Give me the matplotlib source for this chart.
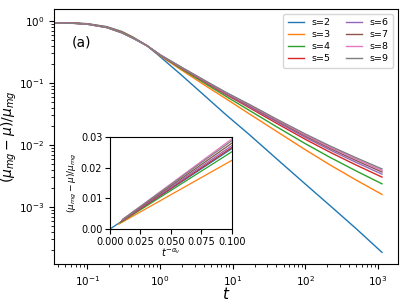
import matplotlib
matplotlib.use("Agg")
import matplotlib.pyplot as plt

# --- data ---
s_labels = ["s=2", "s=3", "s=4", "s=5", "s=6", "s=7", "s=8", "s=9"]

t = [0.035, 0.065, 0.1, 0.185, 0.3, 0.43, 0.66, 1, 2, 4, 8, 17, 40, 100, 220, 500, 1130]

rel_s2 = [0.935, 0.93, 0.905, 0.81, 0.675, 0.545, 0.40,
          0.266, 0.132, 0.064, 0.031, 0.0146, 0.0060, 0.00233, 0.00104, 0.000445, 0.000185]
rel_s3 = [0.93, 0.925, 0.90, 0.80, 0.665, 0.537, 0.40,
          0.275, 0.160, 0.094, 0.056, 0.0316, 0.0166, 0.00835, 0.00473, 0.00271, 0.00159]
rel_s4 = [0.928, 0.922, 0.895, 0.795, 0.657, 0.532, 0.40,
          0.28, 0.167, 0.101, 0.0612, 0.036, 0.0197, 0.01046, 0.00627, 0.0038, 0.00236]
rel_s5 = [0.926, 0.92, 0.892, 0.79, 0.652, 0.529, 0.40,
          0.282, 0.172, 0.1057, 0.0655, 0.0398, 0.0224, 0.0123, 0.00759, 0.00473, 0.00303]
rel_s6 = [0.925, 0.918, 0.89, 0.787, 0.648, 0.527, 0.40,
          0.283, 0.174, 0.108, 0.0674, 0.0416, 0.0237, 0.0132, 0.00826, 0.00522, 0.00338]
rel_s7 = [0.924, 0.917, 0.888, 0.785, 0.645, 0.525, 0.40,
          0.284, 0.1755, 0.1096, 0.0688, 0.0429, 0.0247, 0.0139, 0.00876, 0.00559, 0.00366]
rel_s8 = [0.923, 0.916, 0.887, 0.783, 0.643, 0.524, 0.40,
          0.285, 0.1767, 0.1108, 0.0699, 0.0440, 0.0255, 0.01446, 0.00918, 0.0059, 0.00388]
rel_s9 = [0.922, 0.915, 0.885, 0.781, 0.641, 0.522, 0.40,
          0.285, 0.178, 0.112, 0.071, 0.045, 0.0262, 0.0150, 0.00957, 0.0062, 0.0041]
main_series = [rel_s2, rel_s3, rel_s4, rel_s5, rel_s6, rel_s7, rel_s8, rel_s9]

# inset: rel. deviation vs t^{-alpha_nu}
inset_x = [[0.0, 0.1], [0.0072, 0.1], [0.0085, 0.1], [0.0092, 0.1],
           [0.0097, 0.1], [0.0100, 0.1], [0.0103, 0.1], [0.0105, 0.1]]
inset_y = [[0.0, 0.0262], [0.0016, 0.0224], [0.0021, 0.0252], [0.0024, 0.0266],
           [0.0027, 0.0272], [0.0029, 0.0280], [0.0031, 0.0294], [0.0032, 0.0288]]

colors = plt.cm.tab10.colors

fig = plt.figure(figsize=(4.07, 3.05), dpi=100)
ax = fig.add_axes([0.1327, 0.1344, 0.8453, 0.8361])

for i, ys in enumerate(main_series):
    ax.plot(t, ys, color=colors[i], lw=1.0, label=s_labels[i])

ax.set_xscale("log")
ax.set_yscale("log")
ax.set_xlim(0.0348, 1880)
ax.set_ylim(1.2e-4, 1.56)
ax.tick_params(labelsize=7.5)
ax.set_xlabel("$t$", fontsize=11, labelpad=-1)
ax.set_ylabel(r"$(\mu_{mg}-\mu)/\mu_{mg}$", fontsize=10, labelpad=0)
ax.text(0.052, 0.867, "(a)", transform=ax.transAxes, fontsize=10, va="center", ha="left")
ax.legend(ncol=2, fontsize=6.8, loc="upper right", handlelength=1.7,
          columnspacing=1.6, labelspacing=0.3, borderpad=0.5)

# --- inset ---
axin = fig.add_axes([0.270, 0.249, 0.300, 0.302])
for i in range(len(inset_x)):
    axin.plot(inset_x[i], inset_y[i], color=colors[i], lw=0.9)
axin.set_xlim(0, 0.1)
axin.set_ylim(0, 0.03)
axin.set_xticks([0, 0.025, 0.05, 0.075, 0.1])
axin.set_yticks([0, 0.01, 0.02, 0.03])
axin.tick_params(labelsize=7, pad=2)
axin.set_xlabel(r"$t^{-\alpha_\nu}$", fontsize=7, labelpad=0)
axin.set_ylabel(r"$(\mu_{mg}-\mu)/\mu_{mg}$", fontsize=6.5, labelpad=1)

fig.savefig("out.png", dpi=100)
